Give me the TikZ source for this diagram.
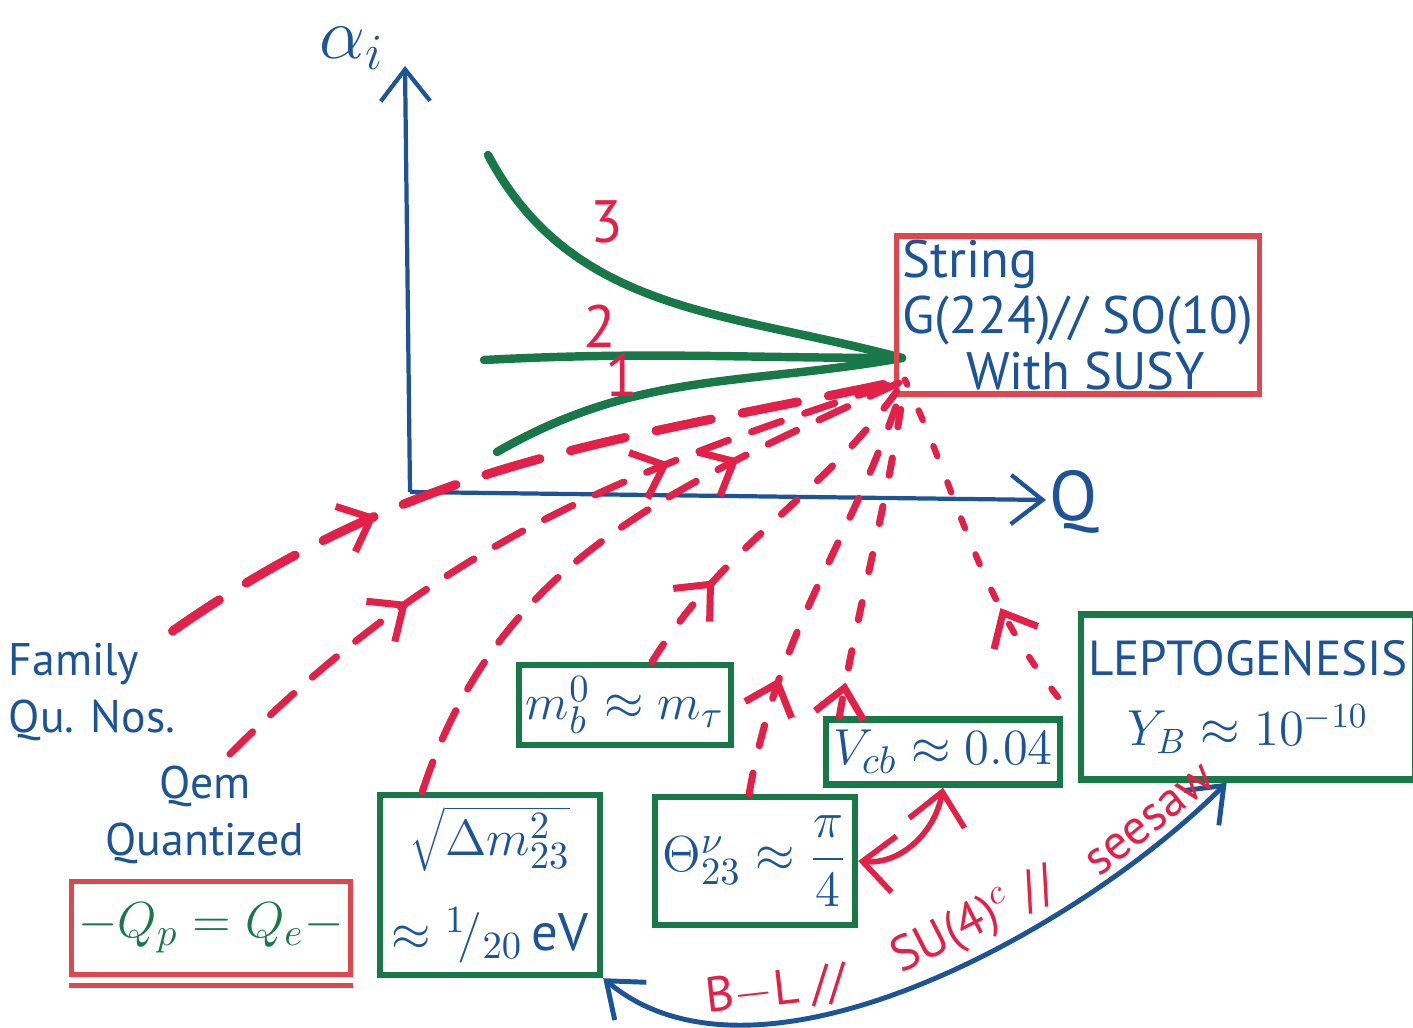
\documentclass[tikz,border=0pt]{standalone}
\usepackage{fontspec}
\setmainfont{PT Sans}
\usepackage{tikz}
\usetikzlibrary{arrows.meta, positioning, calc, decorations.markings}
\definecolor{penblue}{RGB}{28,84,150}
\definecolor{pengreen}{RGB}{24,120,72}
\definecolor{penred}{RGB}{226,32,72}
\definecolor{boxred}{RGB}{222,70,80}
\tikzset{
  axis/.style={penblue, very thick, -{Straight Barb[length=9pt, width=14pt]}},
  running/.style={pengreen, line width=2.4pt, line cap=round},
  flow/.style={penred, line width=2pt, line cap=round, dash pattern=on 9pt off 7pt},
  longflow/.style={penred, line width=2.6pt, line cap=round, dash pattern=on 16pt off 9pt},
  dotflow/.style={penred, line width=1.8pt, line cap=round, dash pattern=on 3pt off 8pt},
  arrowat/.style={postaction={decorate}, decoration={markings,
      mark=at position #1 with {\arrow[penred, solid, line width=2pt]{Straight Barb[length=8pt, width=14pt]}}}},
  arrowsat/.style 2 args={postaction={decorate}, decoration={markings,
      mark=at position #1 with {\arrow[penred, solid, line width=2pt]{Straight Barb[length=8pt, width=14pt]}},
      mark=at position #2 with {\arrow[penred, solid, line width=2pt]{Straight Barb[length=8pt, width=14pt]}}}},
  gbox/.style={draw=pengreen, line width=1.8pt, inner sep=2pt, text=penblue,
               font=\fontsize{15}{19}\selectfont},
  rbox/.style={draw=boxred, line width=1.6pt, inner sep=2pt},
  pen/.style={text=penblue, font=\fontsize{13}{16}\selectfont},
  num/.style={text=penred, font=\fontsize{17}{20}\selectfont},
  twoway/.style={penred, line width=1.6pt, {Straight Barb[length=9pt, width=16pt]}-{Straight Barb[length=9pt, width=16pt]}},
  oneline/.style={penblue, line width=1.4pt, {Straight Barb[length=9pt, width=14pt]}-{Straight Barb[length=9pt, width=14pt]}},
  curvelabel/.style={text=penred, font=\fontsize{14}{16}\selectfont, sloped, above=2pt, inner sep=0pt},
}
\begin{document}
\begin{tikzpicture}[x=0.01cm, y=0.01cm]
  \useasboundingbox (0,-1028) rectangle (1413,0);
  % Axes
  \coordinate (origin) at (410,-492);
  \coordinate (ytip) at (405,-66);
  \coordinate (xtip) at (1046,-500);
  \node[pen, font=\fontsize{20}{22}\selectfont] (alpha) at (352,-48) {$\alpha_i$};
  \node[pen, font=\fontsize{20}{22}\selectfont] (qlab) at (1074,-502) {Q};
  \draw[axis] (origin) -- (ytip);
  \draw[axis] (origin) -- (xtip);
  % Running couplings
  \coordinate (gut) at (902,-358);
  \coordinate (a3) at (488,-155);
  \coordinate (a2) at (484,-360);
  \coordinate (a1) at (497,-452);
  \draw[running] (a3) to[out=-62, in=165] (gut);
  \draw[running] (a2) to[out=3, in=180] (gut);
  \draw[running] (a1) to[out=30, in=190] (gut);
  \node[num] (n3) at (607,-222) {3};
  \node[num] (n2) at (600,-326) {2};
  \node[num] (n1) at (622,-375) {1};
  % Unified theory
  \node[rbox, pen, font=\fontsize{15}{16}\selectfont, minimum width=3.63cm, minimum height=1.5cm,
        inner sep=1pt, align=left] (str) at (1078,-315)
    {String\\G(224)// SO(10)\\\hspace{1.2em}With SUSY};
  % Predictions
  \node[pen, align=left] (fam) at (92,-692) {Family\\Qu. Nos.};
  \node[pen, align=center] (qem) at (205,-815) {Qem\\Quantized};
  \node[rbox, minimum width=2.58cm, minimum height=0.93cm, text=pengreen,
        font=\fontsize{15}{18}\selectfont] (eqbox) at (211,-928) {$-Q_p = Q_e-$};
  \draw[boxred, line width=1.6pt] ([yshift=-0.08cm]eqbox.south west) -- ([yshift=-0.08cm]eqbox.south east);
  \node[gbox, minimum width=2.2cm, minimum height=1.8cm, align=center] (sqbox) at (490,-885)
    {$\sqrt{\Delta m^2_{23}}$\\[8pt]$\approx{}^1\!/_{20}\,$eV};
  \node[gbox, minimum width=2.0cm, minimum height=0.8cm] (mbbox) at (625,-705) {$m^0_b \approx m_\tau$};
  \node[gbox, minimum width=2.0cm, minimum height=1.28cm] (thbox) at (755,-861)
    {$\Theta^\nu_{23} \approx {\displaystyle\frac{\pi}{4}}$};
  \node[gbox, minimum width=2.23cm, minimum height=0.65cm] (vcbbox) at (943,-752) {$V_{cb} \approx 0.04$};
  \node[gbox, font=\fontsize{14}{20}\selectfont, minimum width=3.23cm, minimum height=1.65cm,
        align=center] (lepbox) at (1248,-697)
    {LEPTOGENESIS\\$Y_B \approx 10^{-10}$};
  % Flows to the unification point
  \coordinate (conv) at (905,-380);
  \draw[longflow, arrowat=0.3] ([xshift=-0.15cm]fam.north east) to[out=35, in=192] (conv);
  \draw[flow, arrowsat={0.3}{0.68}] ([xshift=0.25cm]qem.north) to[out=45, in=198] (conv);
  \draw[flow, arrowat=0.72] (sqbox.126) to[out=72, in=205] (conv);
  \draw[flow, dash pattern=on 6pt off 8pt, arrowat=0.27] (mbbox.58) to[out=58, in=235] (conv);
  \draw[flow, dash pattern=on 6pt off 8pt, arrowat=0.27] (thbox.95) to[out=80, in=252] (conv);
  \draw[flow, dash pattern=on 5pt off 9pt, arrowat=0.1] (vcbbox.161) to[out=80, in=262] (conv);
  \draw[dotflow, arrowat=0.3] ([xshift=-0.2cm]lepbox.west) to[out=128, in=-65] (conv);
  % Relations
  \draw[twoway] (thbox.east) to[out=-5, in=-100] (vcbbox.south);
  \draw[oneline] (sqbox.south east) to[out=-40, in=225, looseness=0.8]
    node[curvelabel, pos=0.3] {B$-$L //}
    node[curvelabel, pos=0.6] {SU(4)$^c$ //}
    node[curvelabel, pos=0.875] {seesaw}
    (lepbox.-104);
\end{tikzpicture}
\end{document}
